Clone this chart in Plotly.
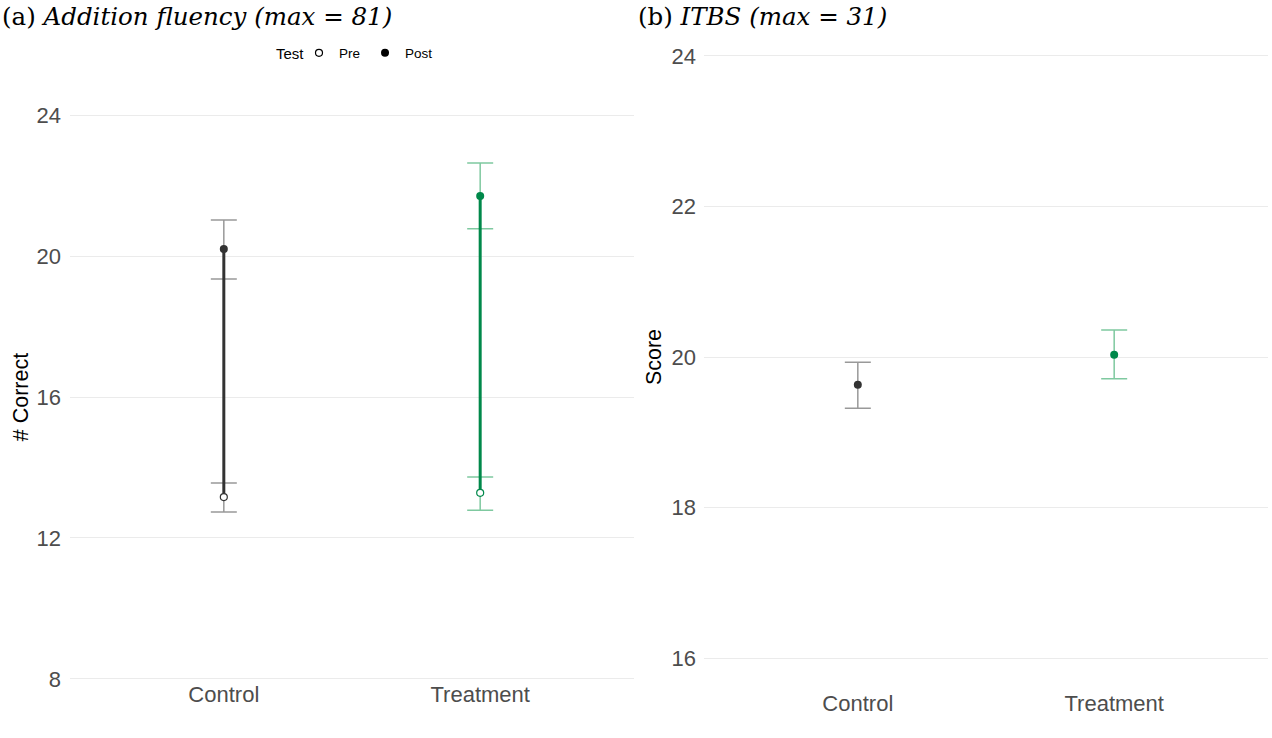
import plotly.graph_objects as go

groups = ["Control", "Treatment"]
x_pos = [1, 2]

# Panel (a): Addition fluency
add_pre_mean = [13.16, 13.28]
add_pre_lo = [12.74, 12.79]
add_pre_hi = [13.56, 13.73]
add_post_mean = [20.20, 21.70]
add_post_lo = [19.35, 20.77]
add_post_hi = [21.02, 22.64]

# Panel (b): ITBS
itbs_mean = [19.63, 20.03]
itbs_lo = [19.32, 19.71]
itbs_hi = [19.93, 20.36]

left_ticks = [8, 12, 16, 20, 24]
right_ticks = [16, 18, 20, 22, 24]

main_cols = ["#333333", "#00884A"]
err_cols = ["#999999", "#7FC9A0"]

fig = go.Figure()

def errbar(xa, ya, x, m, lo, hi, col):
    fig.add_trace(go.Scatter(
        x=[x], y=[m], xaxis=xa, yaxis=ya, mode="markers",
        marker=dict(size=1, opacity=0), showlegend=False, hoverinfo="skip",
        error_y=dict(type="data", symmetric=False, array=[hi - m], arrayminus=[m - lo],
                     color=col, thickness=1.5, width=13)))

for i in range(2):
    errbar("x", "y", x_pos[i], add_pre_mean[i], add_pre_lo[i], add_pre_hi[i], err_cols[i])
    errbar("x", "y", x_pos[i], add_post_mean[i], add_post_lo[i], add_post_hi[i], err_cols[i])
    errbar("x2", "y2", x_pos[i], itbs_mean[i], itbs_lo[i], itbs_hi[i], err_cols[i])

for i in range(2):
    fig.add_trace(go.Scatter(
        x=[x_pos[i], x_pos[i]], y=[add_pre_mean[i], add_post_mean[i]], xaxis="x", yaxis="y",
        mode="lines", line=dict(color=main_cols[i], width=3), showlegend=False, hoverinfo="skip"))
    fig.add_trace(go.Scatter(
        x=[x_pos[i]], y=[add_pre_mean[i]], xaxis="x", yaxis="y", mode="markers",
        marker=dict(symbol="circle", size=7, color="white", line=dict(color=main_cols[i], width=1.2)),
        showlegend=False))
    fig.add_trace(go.Scatter(
        x=[x_pos[i]], y=[add_post_mean[i]], xaxis="x", yaxis="y", mode="markers",
        marker=dict(symbol="circle", size=8, color=main_cols[i]), showlegend=False))
    fig.add_trace(go.Scatter(
        x=[x_pos[i]], y=[itbs_mean[i]], xaxis="x2", yaxis="y2", mode="markers",
        marker=dict(symbol="circle", size=8, color=main_cols[i]), showlegend=False))

# legend entries
fig.add_trace(go.Scatter(x=[None], y=[None], xaxis="x", yaxis="y", mode="markers", name="Pre",
                         marker=dict(symbol="circle", size=7, color="white", line=dict(color="black", width=1.2))))
fig.add_trace(go.Scatter(x=[None], y=[None], xaxis="x", yaxis="y", mode="markers", name="Post",
                         marker=dict(symbol="circle", size=8, color="black")))

tickfont = dict(family="Liberation Sans, Arial, sans-serif", size=22, color="#4D4D4D")
titlefont = dict(family="Liberation Sans, Arial, sans-serif", size=21.5, color="black")
grid = "#EBEBEB"

fig.update_layout(
    width=1272, height=738,
    margin=dict(l=0, r=0, t=0, b=0),
    plot_bgcolor="white", paper_bgcolor="white",
    font=dict(family="Liberation Sans, Arial, sans-serif"),
    xaxis=dict(domain=[70/1272, 634/1272], range=[0.4, 2.6], tickvals=x_pos, ticktext=groups,
               showgrid=False, zeroline=False, showline=False, ticks="", tickfont=tickfont,
               anchor="y", automargin=False, ticklabelstandoff=-4),
    yaxis=dict(domain=[(738-682.5)/738, (738-111.5)/738], range=[7.9, 24.1], tickvals=left_ticks,
               showgrid=True, gridcolor=grid, gridwidth=1, zeroline=False, showline=False, ticks="",
               tickfont=tickfont, anchor="x", automargin=False, ticklabelstandoff=8,
               title=dict(text="# Correct", font=titlefont, standoff=1)),
    xaxis2=dict(domain=[704/1272, 1268/1272], range=[0.4, 2.6], tickvals=x_pos, ticktext=groups,
                showgrid=False, zeroline=False, showline=False, ticks="", tickfont=tickfont,
                anchor="y2", automargin=False, ticklabelstandoff=-2),
    yaxis2=dict(domain=[(738-690)/738, (738-24)/738], range=[15.575, 24.425], tickvals=right_ticks,
                showgrid=True, gridcolor=grid, gridwidth=1, zeroline=False, showline=False, ticks="",
                tickfont=tickfont, anchor="x2", automargin=False, ticklabelstandoff=7,
                title=dict(text="Score", font=titlefont, standoff=3)),
    legend=dict(orientation="h", x=299/1272, xanchor="left", y=1-53/738, yanchor="middle",
                font=dict(size=13.5, color="black"), itemwidth=30, bgcolor="rgba(0,0,0,0)"),
    showlegend=True,
)

fig.add_annotation(x=290/1272, y=1-53/738, xref="paper", yref="paper", xanchor="center", yanchor="middle",
                   text="Test", showarrow=False,
                   font=dict(family="Liberation Sans, Arial, sans-serif", size=15, color="black"))
fig.add_annotation(x=0, y=1-16/738, xref="paper", yref="paper", xanchor="left", yanchor="middle",
                   text="(a) <i>Addition fluency (max = 81)</i>", showarrow=False,
                   font=dict(family="DejaVu Serif, serif", size=24.5, color="black"))
fig.add_annotation(x=636/1272, y=1-16/738, xref="paper", yref="paper", xanchor="left", yanchor="middle",
                   text="(b) <i>ITBS (max = 31)</i>", showarrow=False,
                   font=dict(family="DejaVu Serif, serif", size=24.5, color="black"))

fig.write_html("out.html", post_script="document.body.style.margin='0';",
               config={"displayModeBar": False})
